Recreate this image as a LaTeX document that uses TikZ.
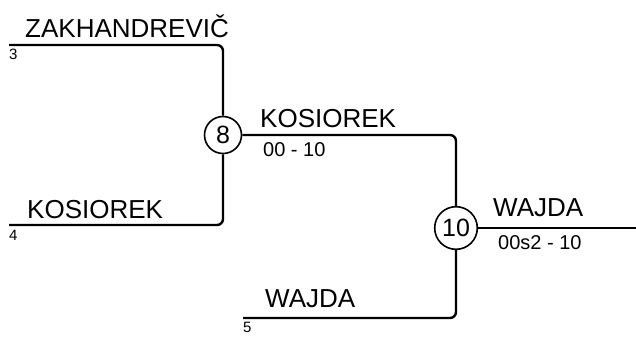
\documentclass[tikz,border=0pt]{standalone}
\usepackage{fontspec}
\setmainfont{Liberation Sans}
\usepackage{tikz}

\begin{document}
\begin{tikzpicture}[x=1pt,y=-1pt,
    bracketline/.style={line width=2.4pt,rounded corners=6pt},
    matchnode/.style={draw,circle,line width=1.6pt,inner sep=3.5pt,minimum size=37pt,
      font=\fontsize{25}{25}\selectfont},
    playername/.style={anchor=base west,inner sep=0pt,font=\fontsize{26}{26}\selectfont},
    scorelabel/.style={anchor=north west,inner sep=0pt,font=\fontsize{20}{20}\selectfont},
    seedlabel/.style={anchor=north west,inner sep=0pt,font=\fontsize{15}{15}\selectfont}]
      \useasboundingbox (0,0) rectangle (636,338);
      % entries
      \coordinate (seed3) at (9,45);
      \coordinate (seed4) at (9,225);
      \coordinate (seed5) at (243,318);
      \coordinate (winner) at (636,228);
      % matches
      \node[matchnode] (match8) at (223,135) {8};
      \node[matchnode] (match10) at (456,228) {10};
      % lines
      \draw[bracketline] (seed3) -| (match8);
      \draw[bracketline] (seed4) -| (match8);
      \draw[bracketline] (match8) -| (match10);
      \draw[bracketline] (seed5) -| (match10);
      \draw[bracketline] (match10) -- (winner);
      % names and scores
      \node[playername] (name3) at (25,37) {ZAKHANDREVIČ};
      \node[seedlabel] (num3) at (9,49) {3};
      \node[playername] (name4) at (27,218) {KOSIOREK};
      \node[seedlabel] (num4) at (9,229.5) {4};
      \node[playername] (name8) at (260,127) {KOSIOREK};
      \node[scorelabel] (score8) at (263,142) {00 - 10};
      \node[playername] (name5) at (265,307) {WAJDA};
      \node[seedlabel] (num5) at (243,321.5) {5};
      \node[playername] (name10) at (493,216) {WAJDA};
      \node[scorelabel] (score10) at (498,235) {00s2 - 10};
\end{tikzpicture}
\end{document}
